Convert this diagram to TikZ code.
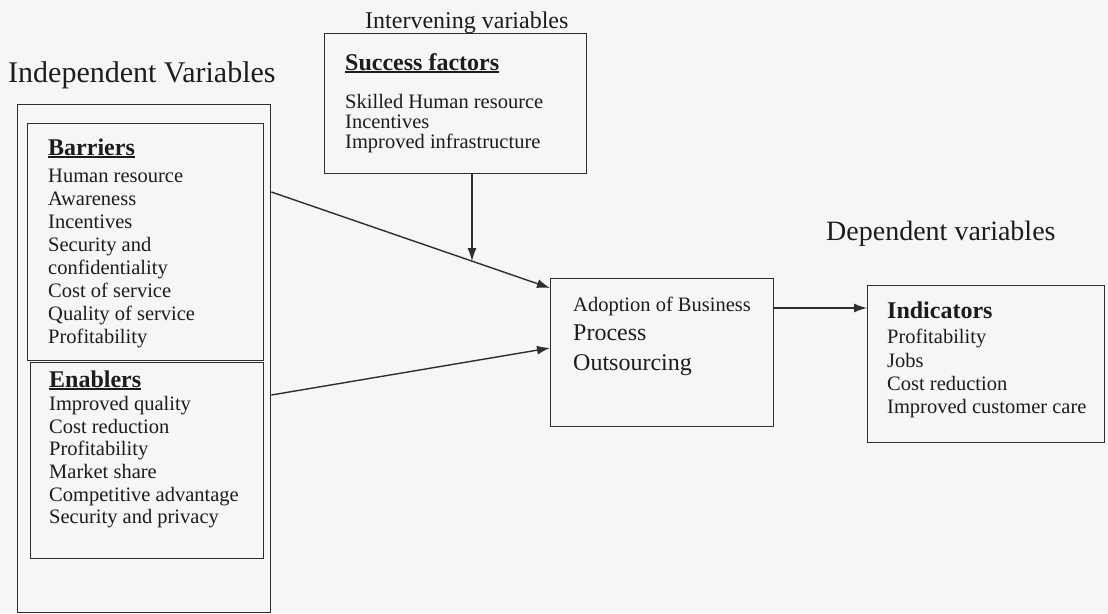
\documentclass[tikz,border=0pt]{standalone}
\usepackage{fontspec}
\setmainfont{Liberation Serif}
\usetikzlibrary{arrows.meta,calc,positioning}
\definecolor{ink}{HTML}{1C1C1C}
\definecolor{linegray}{HTML}{2E2E2E}
\definecolor{paper}{HTML}{F6F6F6}
\newcommand\ulbar[1]{\setbox0\hbox{#1}\rlap{\rule[-3pt]{\wd0}{1.6pt}}\box0}

\begin{document}
\begin{tikzpicture}[x=1pt,y=-1pt,
    box/.style={draw=linegray,line width=1.4pt,rectangle,inner sep=0pt,anchor=north west},
    list/.style={anchor=north west,inner sep=0pt,align=left,text=ink},
    head/.style={anchor=base west,inner sep=0pt,text=ink,font=\fontsize{24}{24}\selectfont\bfseries},
    label/.style={anchor=base west,inner sep=0pt,text=ink},
    conn/.style={-{Latex[length=13pt,width=9pt]},line width=1.4pt,draw=linegray}]

        \fill[paper] (0,0) rectangle (1108,613);
        \useasboundingbox (0,0) rectangle (1108,613);

        % boxes
        \node[box,minimum width=253pt,minimum height=508pt] (outer) at (17,104) {};
        \node[box,minimum width=236pt,minimum height=237pt] (barriers) at (27,123) {};
        \node[box,minimum width=233pt,minimum height=196pt] (enablers) at (30,362) {};
        \node[box,minimum width=262pt,minimum height=140pt] (success) at (324,33) {};
        \node[box,minimum width=223pt,minimum height=148pt] (adoption) at (550,278) {};
        \node[box,minimum width=237pt,minimum height=157pt] (indicators) at (867,285) {};

        % headings
        \node[label,font=\fontsize{30}{30}\selectfont] (indep) at (8,82) {Independent Variables};
        \node[label,font=\fontsize{24}{24}\selectfont] (interv) at (365,28) {Intervening variables};
        \node[label,font=\fontsize{28}{28}\selectfont] (dep) at (826,240) {Dependent variables};

        % left panel
        \node[head] (bartitle) at (48,155) {\ulbar{Barriers}};
        \node[list,font=\fontsize{20.5}{23}\selectfont] (barlist) at (48,168.5)
            {Human resource\\Awareness\\Incentives\\Security and\\confidentiality\\Cost of service\\Quality of service\\Profitability};
        \node[head] (entitle) at (49,387) {\ulbar{Enablers}};
        \node[list,font=\fontsize{20.5}{22.6}\selectfont] (enlist) at (49,396.3)
            {Improved quality\\Cost reduction\\Profitability\\Market share\\Competitive advantage\\Security and privacy};

        % success factors
        \node[head] (suctitle) at (345,70) {\ulbar{Success factors}};
        \node[list,font=\fontsize{20.5}{20}\selectfont] (suclist) at (345,94.3)
            {Skilled Human resource\\Incentives\\Improved infrastructure};

        % adoption
        \node[label,font=\fontsize{20.5}{20.5}\selectfont] (adopt1) at (573,311) {Adoption of Business};
        \node[label,font=\fontsize{24}{24}\selectfont] (adopt2) at (573,340) {Process};
        \node[label,font=\fontsize{24}{24}\selectfont] (adopt3) at (573,370) {Outsourcing};

        % indicators
        \node[head] (indtitle) at (887,318) {Indicators};
        \node[list,font=\fontsize{20.5}{23.3}\selectfont] (indlist) at (887,329.3)
            {Profitability\\Jobs\\Cost reduction\\Improved customer care};

        % connectors
        \draw[conn] ($(outer.north east)+(0,88)$) -- coordinate[pos=0.72] (meet) ($(adoption.north west)+(0,10)$);
        \draw[conn] (success.south -| meet) -- (meet);
        \draw[conn] ($(outer.north east)+(0,291)$) -- ($(adoption.north west)+(0,70)$);
        \draw[conn] ($(adoption.north east)+(0,30)$) -- ($(indicators.north west)+(0,23)$);

\end{tikzpicture}
\end{document}
